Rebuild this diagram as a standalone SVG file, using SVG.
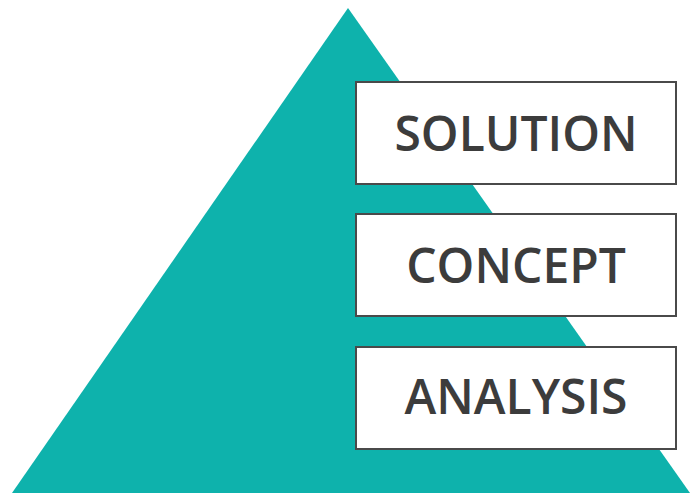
<svg xmlns="http://www.w3.org/2000/svg" width="697" height="493" viewBox="0 0 697 493">
<style>
.box{fill:#fff;stroke:#4a4a4a;stroke-width:2}
.lbl{font-family:"Open Sans","Liberation Sans",sans-serif;font-weight:600;font-size:48px;fill:#3c3c3c;text-anchor:middle}
</style>
<rect width="697" height="493" fill="#fff"/>
<polygon id="pyramid" points="348,8 12,493 690,493" fill="#0eb2ac"/>
<g id="connectors"/>
<g id="solution">
<rect class="box" x="356" y="82" width="320" height="102"/>
<text class="lbl" x="516" y="151">SOLUTION</text>
</g>
<g id="concept">
<rect class="box" x="356" y="214" width="320" height="102"/>
<text class="lbl" x="516" y="283">CONCEPT</text>
</g>
<g id="analysis">
<rect class="box" x="356" y="347" width="320" height="102"/>
<text class="lbl" x="516" y="414">ANALYSIS</text>
</g>
</svg>
